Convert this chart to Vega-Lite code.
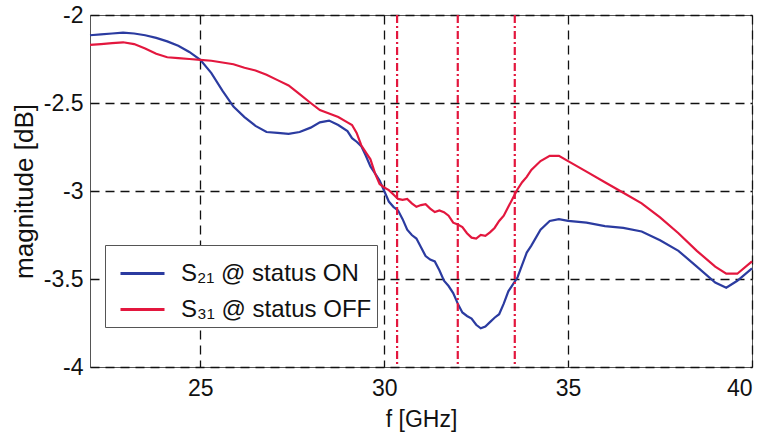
{
  "$schema": "https://vega.github.io/schema/vega-lite/v6.json",
  "width": 662,
  "height": 352,
  "autosize": {"type": "none"},
  "padding": {"left": 90, "top": 15, "right": 19, "bottom": 74},
  "background": "white",
  "config": {
    "view": {"stroke": "#555", "strokeWidth": 1},
    "axis": {
      "grid": true, "gridColor": "#111", "gridDash": [9, 6], "gridWidth": 1.3, "gridOpacity": 1,
      "domain": false, "ticks": false,
      "labelFont": "Liberation Sans", "labelFontSize": 23, "labelColor": "#111",
      "titleFont": "Liberation Sans", "titleFontWeight": "normal", "titleColor": "#111"
    }
  },
  "datasets": {
    "curves": [
      {"f": 22.0, "mag": -2.115, "s": "S₂₁ @ status ON"},
      {"f": 22.3, "mag": -2.11, "s": "S₂₁ @ status ON"},
      {"f": 22.6, "mag": -2.105, "s": "S₂₁ @ status ON"},
      {"f": 22.9, "mag": -2.1, "s": "S₂₁ @ status ON"},
      {"f": 23.2, "mag": -2.105, "s": "S₂₁ @ status ON"},
      {"f": 23.5, "mag": -2.115, "s": "S₂₁ @ status ON"},
      {"f": 23.8, "mag": -2.13, "s": "S₂₁ @ status ON"},
      {"f": 24.1, "mag": -2.15, "s": "S₂₁ @ status ON"},
      {"f": 24.4, "mag": -2.175, "s": "S₂₁ @ status ON"},
      {"f": 24.7, "mag": -2.21, "s": "S₂₁ @ status ON"},
      {"f": 25.0, "mag": -2.255, "s": "S₂₁ @ status ON"},
      {"f": 25.3, "mag": -2.33, "s": "S₂₁ @ status ON"},
      {"f": 25.6, "mag": -2.43, "s": "S₂₁ @ status ON"},
      {"f": 25.9, "mag": -2.52, "s": "S₂₁ @ status ON"},
      {"f": 26.2, "mag": -2.58, "s": "S₂₁ @ status ON"},
      {"f": 26.5, "mag": -2.63, "s": "S₂₁ @ status ON"},
      {"f": 26.8, "mag": -2.665, "s": "S₂₁ @ status ON"},
      {"f": 27.1, "mag": -2.67, "s": "S₂₁ @ status ON"},
      {"f": 27.4, "mag": -2.675, "s": "S₂₁ @ status ON"},
      {"f": 27.7, "mag": -2.665, "s": "S₂₁ @ status ON"},
      {"f": 28.0, "mag": -2.64, "s": "S₂₁ @ status ON"},
      {"f": 28.25, "mag": -2.61, "s": "S₂₁ @ status ON"},
      {"f": 28.5, "mag": -2.6, "s": "S₂₁ @ status ON"},
      {"f": 28.75, "mag": -2.625, "s": "S₂₁ @ status ON"},
      {"f": 29.0, "mag": -2.66, "s": "S₂₁ @ status ON"},
      {"f": 29.125, "mag": -2.7, "s": "S₂₁ @ status ON"},
      {"f": 29.25, "mag": -2.72, "s": "S₂₁ @ status ON"},
      {"f": 29.375, "mag": -2.745, "s": "S₂₁ @ status ON"},
      {"f": 29.5, "mag": -2.8, "s": "S₂₁ @ status ON"},
      {"f": 29.625, "mag": -2.86, "s": "S₂₁ @ status ON"},
      {"f": 29.75, "mag": -2.9, "s": "S₂₁ @ status ON"},
      {"f": 29.875, "mag": -2.94, "s": "S₂₁ @ status ON"},
      {"f": 30.0, "mag": -3.0, "s": "S₂₁ @ status ON"},
      {"f": 30.125, "mag": -3.06, "s": "S₂₁ @ status ON"},
      {"f": 30.25, "mag": -3.09, "s": "S₂₁ @ status ON"},
      {"f": 30.375, "mag": -3.11, "s": "S₂₁ @ status ON"},
      {"f": 30.5, "mag": -3.16, "s": "S₂₁ @ status ON"},
      {"f": 30.625, "mag": -3.22, "s": "S₂₁ @ status ON"},
      {"f": 30.75, "mag": -3.25, "s": "S₂₁ @ status ON"},
      {"f": 30.875, "mag": -3.27, "s": "S₂₁ @ status ON"},
      {"f": 31.0, "mag": -3.32, "s": "S₂₁ @ status ON"},
      {"f": 31.125, "mag": -3.37, "s": "S₂₁ @ status ON"},
      {"f": 31.25, "mag": -3.39, "s": "S₂₁ @ status ON"},
      {"f": 31.375, "mag": -3.4, "s": "S₂₁ @ status ON"},
      {"f": 31.5, "mag": -3.45, "s": "S₂₁ @ status ON"},
      {"f": 31.625, "mag": -3.51, "s": "S₂₁ @ status ON"},
      {"f": 31.75, "mag": -3.54, "s": "S₂₁ @ status ON"},
      {"f": 31.875, "mag": -3.58, "s": "S₂₁ @ status ON"},
      {"f": 32.0, "mag": -3.64, "s": "S₂₁ @ status ON"},
      {"f": 32.125, "mag": -3.69, "s": "S₂₁ @ status ON"},
      {"f": 32.25, "mag": -3.71, "s": "S₂₁ @ status ON"},
      {"f": 32.375, "mag": -3.725, "s": "S₂₁ @ status ON"},
      {"f": 32.5, "mag": -3.76, "s": "S₂₁ @ status ON"},
      {"f": 32.625, "mag": -3.78, "s": "S₂₁ @ status ON"},
      {"f": 32.75, "mag": -3.77, "s": "S₂₁ @ status ON"},
      {"f": 32.875, "mag": -3.745, "s": "S₂₁ @ status ON"},
      {"f": 33.0, "mag": -3.72, "s": "S₂₁ @ status ON"},
      {"f": 33.125, "mag": -3.7, "s": "S₂₁ @ status ON"},
      {"f": 33.25, "mag": -3.64, "s": "S₂₁ @ status ON"},
      {"f": 33.375, "mag": -3.57, "s": "S₂₁ @ status ON"},
      {"f": 33.5, "mag": -3.53, "s": "S₂₁ @ status ON"},
      {"f": 33.625, "mag": -3.49, "s": "S₂₁ @ status ON"},
      {"f": 33.75, "mag": -3.42, "s": "S₂₁ @ status ON"},
      {"f": 33.875, "mag": -3.35, "s": "S₂₁ @ status ON"},
      {"f": 34.0, "mag": -3.31, "s": "S₂₁ @ status ON"},
      {"f": 34.25, "mag": -3.22, "s": "S₂₁ @ status ON"},
      {"f": 34.5, "mag": -3.17, "s": "S₂₁ @ status ON"},
      {"f": 34.75, "mag": -3.16, "s": "S₂₁ @ status ON"},
      {"f": 35.0, "mag": -3.17, "s": "S₂₁ @ status ON"},
      {"f": 35.5, "mag": -3.18, "s": "S₂₁ @ status ON"},
      {"f": 36.0, "mag": -3.2, "s": "S₂₁ @ status ON"},
      {"f": 36.5, "mag": -3.21, "s": "S₂₁ @ status ON"},
      {"f": 37.0, "mag": -3.23, "s": "S₂₁ @ status ON"},
      {"f": 37.5, "mag": -3.28, "s": "S₂₁ @ status ON"},
      {"f": 38.0, "mag": -3.34, "s": "S₂₁ @ status ON"},
      {"f": 38.5, "mag": -3.43, "s": "S₂₁ @ status ON"},
      {"f": 39.0, "mag": -3.52, "s": "S₂₁ @ status ON"},
      {"f": 39.3, "mag": -3.55, "s": "S₂₁ @ status ON"},
      {"f": 39.6, "mag": -3.51, "s": "S₂₁ @ status ON"},
      {"f": 40.0, "mag": -3.44, "s": "S₂₁ @ status ON"},
      {"f": 22.0, "mag": -2.17, "s": "S₃₁ @ status OFF"},
      {"f": 22.3, "mag": -2.165, "s": "S₃₁ @ status OFF"},
      {"f": 22.6, "mag": -2.16, "s": "S₃₁ @ status OFF"},
      {"f": 22.9, "mag": -2.155, "s": "S₃₁ @ status OFF"},
      {"f": 23.2, "mag": -2.165, "s": "S₃₁ @ status OFF"},
      {"f": 23.5, "mag": -2.19, "s": "S₃₁ @ status OFF"},
      {"f": 23.8, "mag": -2.22, "s": "S₃₁ @ status OFF"},
      {"f": 24.1, "mag": -2.24, "s": "S₃₁ @ status OFF"},
      {"f": 24.4, "mag": -2.245, "s": "S₃₁ @ status OFF"},
      {"f": 24.7, "mag": -2.25, "s": "S₃₁ @ status OFF"},
      {"f": 25.0, "mag": -2.255, "s": "S₃₁ @ status OFF"},
      {"f": 25.3, "mag": -2.26, "s": "S₃₁ @ status OFF"},
      {"f": 25.6, "mag": -2.27, "s": "S₃₁ @ status OFF"},
      {"f": 25.9, "mag": -2.28, "s": "S₃₁ @ status OFF"},
      {"f": 26.2, "mag": -2.3, "s": "S₃₁ @ status OFF"},
      {"f": 26.5, "mag": -2.315, "s": "S₃₁ @ status OFF"},
      {"f": 26.8, "mag": -2.34, "s": "S₃₁ @ status OFF"},
      {"f": 27.1, "mag": -2.37, "s": "S₃₁ @ status OFF"},
      {"f": 27.4, "mag": -2.4, "s": "S₃₁ @ status OFF"},
      {"f": 27.7, "mag": -2.45, "s": "S₃₁ @ status OFF"},
      {"f": 28.0, "mag": -2.5, "s": "S₃₁ @ status OFF"},
      {"f": 28.25, "mag": -2.54, "s": "S₃₁ @ status OFF"},
      {"f": 28.5, "mag": -2.56, "s": "S₃₁ @ status OFF"},
      {"f": 28.75, "mag": -2.58, "s": "S₃₁ @ status OFF"},
      {"f": 29.0, "mag": -2.61, "s": "S₃₁ @ status OFF"},
      {"f": 29.125, "mag": -2.625, "s": "S₃₁ @ status OFF"},
      {"f": 29.25, "mag": -2.67, "s": "S₃₁ @ status OFF"},
      {"f": 29.375, "mag": -2.74, "s": "S₃₁ @ status OFF"},
      {"f": 29.5, "mag": -2.78, "s": "S₃₁ @ status OFF"},
      {"f": 29.625, "mag": -2.82, "s": "S₃₁ @ status OFF"},
      {"f": 29.75, "mag": -2.9, "s": "S₃₁ @ status OFF"},
      {"f": 29.875, "mag": -2.96, "s": "S₃₁ @ status OFF"},
      {"f": 30.0, "mag": -2.98, "s": "S₃₁ @ status OFF"},
      {"f": 30.125, "mag": -2.995, "s": "S₃₁ @ status OFF"},
      {"f": 30.25, "mag": -3.02, "s": "S₃₁ @ status OFF"},
      {"f": 30.375, "mag": -3.045, "s": "S₃₁ @ status OFF"},
      {"f": 30.5, "mag": -3.05, "s": "S₃₁ @ status OFF"},
      {"f": 30.625, "mag": -3.045, "s": "S₃₁ @ status OFF"},
      {"f": 30.75, "mag": -3.07, "s": "S₃₁ @ status OFF"},
      {"f": 30.875, "mag": -3.09, "s": "S₃₁ @ status OFF"},
      {"f": 31.0, "mag": -3.08, "s": "S₃₁ @ status OFF"},
      {"f": 31.125, "mag": -3.075, "s": "S₃₁ @ status OFF"},
      {"f": 31.25, "mag": -3.1, "s": "S₃₁ @ status OFF"},
      {"f": 31.375, "mag": -3.12, "s": "S₃₁ @ status OFF"},
      {"f": 31.5, "mag": -3.11, "s": "S₃₁ @ status OFF"},
      {"f": 31.625, "mag": -3.12, "s": "S₃₁ @ status OFF"},
      {"f": 31.75, "mag": -3.14, "s": "S₃₁ @ status OFF"},
      {"f": 31.875, "mag": -3.18, "s": "S₃₁ @ status OFF"},
      {"f": 32.0, "mag": -3.19, "s": "S₃₁ @ status OFF"},
      {"f": 32.125, "mag": -3.205, "s": "S₃₁ @ status OFF"},
      {"f": 32.25, "mag": -3.24, "s": "S₃₁ @ status OFF"},
      {"f": 32.375, "mag": -3.265, "s": "S₃₁ @ status OFF"},
      {"f": 32.5, "mag": -3.27, "s": "S₃₁ @ status OFF"},
      {"f": 32.625, "mag": -3.25, "s": "S₃₁ @ status OFF"},
      {"f": 32.75, "mag": -3.255, "s": "S₃₁ @ status OFF"},
      {"f": 32.875, "mag": -3.235, "s": "S₃₁ @ status OFF"},
      {"f": 33.0, "mag": -3.21, "s": "S₃₁ @ status OFF"},
      {"f": 33.125, "mag": -3.17, "s": "S₃₁ @ status OFF"},
      {"f": 33.25, "mag": -3.14, "s": "S₃₁ @ status OFF"},
      {"f": 33.375, "mag": -3.09, "s": "S₃₁ @ status OFF"},
      {"f": 33.5, "mag": -3.04, "s": "S₃₁ @ status OFF"},
      {"f": 33.625, "mag": -2.99, "s": "S₃₁ @ status OFF"},
      {"f": 33.75, "mag": -2.95, "s": "S₃₁ @ status OFF"},
      {"f": 33.875, "mag": -2.92, "s": "S₃₁ @ status OFF"},
      {"f": 34.0, "mag": -2.88, "s": "S₃₁ @ status OFF"},
      {"f": 34.25, "mag": -2.83, "s": "S₃₁ @ status OFF"},
      {"f": 34.5, "mag": -2.8, "s": "S₃₁ @ status OFF"},
      {"f": 34.75, "mag": -2.8, "s": "S₃₁ @ status OFF"},
      {"f": 35.0, "mag": -2.83, "s": "S₃₁ @ status OFF"},
      {"f": 35.5, "mag": -2.89, "s": "S₃₁ @ status OFF"},
      {"f": 36.0, "mag": -2.95, "s": "S₃₁ @ status OFF"},
      {"f": 36.5, "mag": -3.01, "s": "S₃₁ @ status OFF"},
      {"f": 37.0, "mag": -3.07, "s": "S₃₁ @ status OFF"},
      {"f": 37.5, "mag": -3.15, "s": "S₃₁ @ status OFF"},
      {"f": 38.0, "mag": -3.24, "s": "S₃₁ @ status OFF"},
      {"f": 38.5, "mag": -3.34, "s": "S₃₁ @ status OFF"},
      {"f": 39.0, "mag": -3.43, "s": "S₃₁ @ status OFF"},
      {"f": 39.3, "mag": -3.47, "s": "S₃₁ @ status OFF"},
      {"f": 39.6, "mag": -3.47, "s": "S₃₁ @ status OFF"},
      {"f": 40.0, "mag": -3.4, "s": "S₃₁ @ status OFF"}
    ],
    "markers": [
      {"f": 30.35},
      {"f": 32.0},
      {"f": 33.55}
    ]
  },
  "layer": [
    {
      "data": {"name": "curves"},
      "mark": {"type": "line", "strokeWidth": 2.2},
      "encoding": {
        "x": {
          "field": "f", "type": "quantitative",
          "scale": {"domain": [22, 40], "nice": false, "zero": false},
          "axis": {"values": [25, 30, 35, 40], "title": "f [GHz]", "titleFontSize": 23, "labelPadding": 10, "titlePadding": 8}
        },
        "y": {
          "field": "mag", "type": "quantitative",
          "scale": {"domain": [-4, -2], "nice": false, "zero": false},
          "axis": {"values": [-4, -3.5, -3, -2.5, -2], "labelExpr": "'' + datum.value", "title": "magnitude [dB]", "titleFontSize": 26, "labelPadding": 7, "titlePadding": 6}
        },
        "color": {
          "field": "s", "type": "nominal",
          "scale": {"domain": ["S₂₁ @ status ON", "S₃₁ @ status OFF"], "range": ["#2b3ba0", "#e3173e"]},
          "legend": {
            "orient": "none", "legendX": 15, "legendY": 230, "title": null, "direction": "vertical",
            "symbolType": "stroke", "symbolSize": 1936, "symbolStrokeWidth": 3, "symbolOffset": 9,
            "labelFont": "Liberation Sans", "labelFontSize": 24, "labelColor": "#111", "labelLimit": 400, "labelOffset": 15,
            "strokeColor": "#555", "fillColor": "white", "padding": 5, "rowPadding": 0
          }
        }
      }
    },
    {
      "data": {"name": "markers"},
      "mark": {"type": "rule", "color": "#e3173e", "strokeDash": [8, 3, 2, 3], "strokeWidth": 2.2},
      "encoding": {
        "x": {"field": "f", "type": "quantitative"}
      }
    }
  ]
}
